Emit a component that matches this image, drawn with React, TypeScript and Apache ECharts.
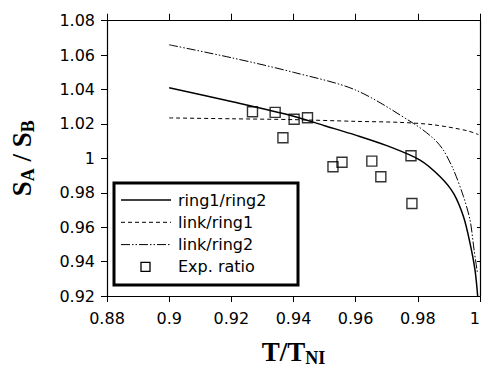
import React, { useEffect, useRef } from "react";
import * as echarts from "echarts";

const xTicks = [0.88, 0.9, 0.92, 0.94, 0.96, 0.98, 1.0];
const yTicks = [0.92, 0.94, 0.96, 0.98, 1.0, 1.02, 1.04, 1.06, 1.08];

const ring1Ring2: [number, number][] = [
  [0.9, 1.041], [0.92, 1.033], [0.94, 1.0245], [0.95, 1.019],
  [0.96, 1.0135], [0.97, 1.0074], [0.9807, 0.999],
  [0.9872, 0.9893], [0.9915, 0.9796], [0.9947, 0.966], [0.9968, 0.9506],
  [0.9984, 0.935], [0.99925, 0.92],
];

const linkRing1: [number, number][] = [
  [0.9, 1.0235], [0.92, 1.023], [0.94, 1.0225], [0.96, 1.0215], [0.9743, 1.0209],
  [0.985, 1.0195], [0.9958, 1.0161], [0.9995, 1.0138],
];

const linkRing2: [number, number][] = [
  [0.9, 1.066], [0.92, 1.0585], [0.94, 1.05], [0.96, 1.0397],
  [0.9786, 1.0203], [0.985, 1.0116], [0.9882, 1.0048], [0.9915, 0.9932],
  [0.9947, 0.9777], [0.9968, 0.9641], [0.9981, 0.9467], [0.9992, 0.9331],
];

const expRatio: [number, number][] = [
  [0.9268, 1.0271], [0.9341, 1.0267], [0.9402, 1.0227], [0.9445, 1.0236],
  [0.9366, 1.012], [0.9527, 0.9951], [0.9556, 0.9977], [0.9652, 0.9984],
  [0.9681, 0.9893], [0.9778, 1.0015], [0.9781, 0.9738],
];

const legendNames = ["ring1/ring2", "link/ring1", "link/ring2", "Exp. ratio"];

const fmt = (v: number) => String(Number(v.toFixed(2)));

export default function App() {
  const ref = useRef<HTMLDivElement>(null);
  useEffect(() => {
    if (!ref.current) return;
    const chart = echarts.init(ref.current, null, { renderer: "svg" });
    const sans = "DejaVu Sans, sans-serif";
    const serif = "Liberation Serif, Times New Roman, serif";
    const labelStyle = { color: "#000", fontSize: 16, fontFamily: sans };
    const legendTop = 183;
    const rowH = 22.3;
    const legendItems: any[] = [];
    const dashes: any[] = [null, [4, 3], [9, 2, 1.5, 2, 1.5, 2]];
    legendNames.forEach((n, i) => {
      const y = legendTop + 17 + i * rowH;
      if (i < 3) {
        legendItems.push({
          type: "line",
          shape: { x1: 121, y1: y, x2: 171, y2: y },
          style: { stroke: "#000", lineWidth: i === 0 ? 1.3 : 1, lineDash: dashes[i] || undefined },
        });
      } else {
        legendItems.push({
          type: "rect",
          shape: { x: 141, y: y - 4.5, width: 9, height: 9 },
          style: { fill: "#fff", stroke: "#000", lineWidth: 1.3 },
        });
      }
      legendItems.push({
        type: "text",
        x: 178,
        y: y,
        style: {
          text: n,
          fill: "#000",
          font: `16px ${sans}`,
          verticalAlign: "middle",
        },
      });
    });

    const titleRich = {
      a: { fontFamily: serif, fontWeight: "bold", fontSize: 27, color: "#000" },
      s: { fontFamily: serif, fontWeight: "bold", fontSize: 18, color: "#000", padding: [12, 0, 0, 0] },
    };

    chart.setOption({
      animation: false,
      backgroundColor: "#fff",
      grid: {
        left: 107, right: 3, top: 20.7, bottom: 75,
        containLabel: false, outerBoundsMode: "none",
      },
      xAxis: [
        {
          type: "value", min: 0.88, max: 1.0, interval: 0.02,
          axisLine: { lineStyle: { color: "#000", width: 1.2 } },
          axisTick: { show: true, length: 6, lineStyle: { color: "#000" } },
          axisLabel: { ...labelStyle, margin: 14, formatter: fmt, alignMaxLabel: "right" },
          splitLine: { show: false },
          name: "{a|T/T}{s|NI}",
          nameLocation: "middle",
          nameGap: 41,
          nameTextStyle: { rich: titleRich },
        },
        {
          type: "value", min: 0.88, max: 1.0, interval: 0.02, position: "top",
          axisLine: { show: true, lineStyle: { color: "#000", width: 1.2 } },
          axisTick: { show: true, length: 7, lineStyle: { color: "#000" } },
          axisLabel: { show: false },
          splitLine: { show: false },
        },
      ],
      yAxis: [
        {
          type: "value", min: 0.92, max: 1.08, interval: 0.02,
          axisLine: { show: true, lineStyle: { color: "#000", width: 1.2 } },
          axisTick: { show: true, length: 6, lineStyle: { color: "#000" } },
          axisLabel: { ...labelStyle, margin: 12, formatter: fmt },
          splitLine: { show: false },
          name: "{a|S}{s|A}{a| / S}{s|B}",
          nameLocation: "middle",
          nameGap: 70,
          nameRotate: 90,
          nameTextStyle: { rich: titleRich },
        },
        {
          type: "value", min: 0.92, max: 1.08, interval: 0.02, position: "right",
          axisLine: { show: true, lineStyle: { color: "#000", width: 1.2 } },
          axisTick: { show: true, inside: true, length: 3, lineStyle: { color: "#000" } },
          axisLabel: { show: false },
          splitLine: { show: false },
        },
      ],
      series: [
        {
          name: legendNames[0], type: "line", data: ring1Ring2, showSymbol: false,
          smooth: 0.3,
          lineStyle: { color: "#000", width: 1.5 }, z: 3,
        },
        {
          name: legendNames[1], type: "line", data: linkRing1, showSymbol: false,
          smooth: 0.3,
          lineStyle: { color: "#000", width: 1, type: [4, 3] }, z: 3,
        },
        {
          name: legendNames[2], type: "line", data: linkRing2, showSymbol: false,
          smooth: 0.3,
          lineStyle: { color: "#000", width: 1, type: [9, 2, 1.5, 2, 1.5, 2] }, z: 3,
        },
        {
          name: legendNames[3], type: "scatter", data: expRatio, symbol: "rect", symbolSize: 10,
          itemStyle: { color: "rgba(255,255,255,0)", borderColor: "#000", borderWidth: 1.4 }, z: 4,
        },
      ],
      graphic: [
        {
          type: "rect",
          shape: { x: 114, y: legendTop, width: 184, height: 102 },
          style: { fill: "#fff", stroke: "#000", lineWidth: 3 },
          z: 10,
        },
        ...legendItems.map((e) => ({ ...e, z: 11 })),
      ],
    });
    return () => chart.dispose();
  }, []);
  return (
    <div
      ref={ref}
      style={{ position: "fixed", left: 0, top: 0, width: 483, height: 371 }}
    />
  );
}
